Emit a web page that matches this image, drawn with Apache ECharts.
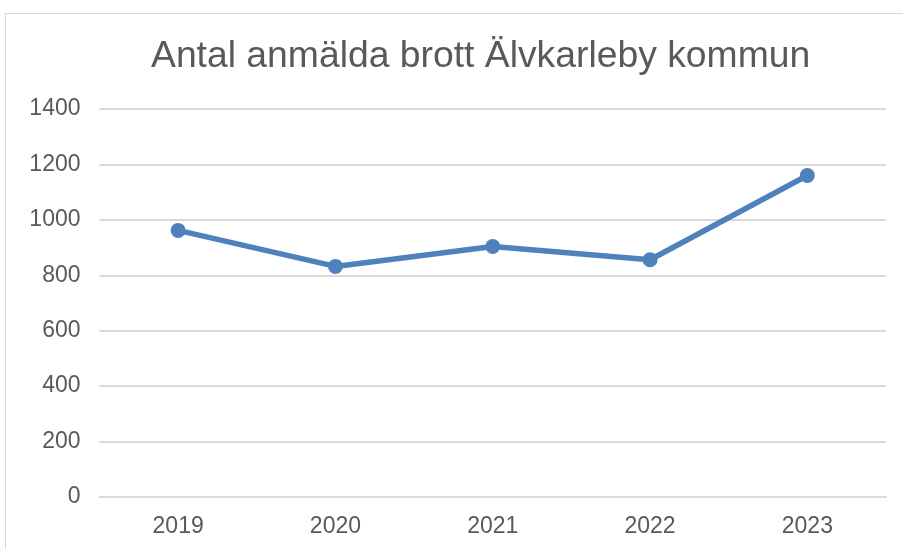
<!DOCTYPE html>
<html>
<head>
<meta charset="utf-8">
<script src="https://cdn.jsdelivr.net/npm/echarts@6/dist/echarts.min.js"></script>
<style>
  html, body { margin: 0; padding: 0; background: #fff; }
  #chart { width: 903px; height: 549px; }
</style>
</head>
<body>
<div id="chart"></div>
<script>
var years = ['2019', '2020', '2021', '2022', '2023'];
var brott = [962, 832, 904, 856, 1160];
var titleText = 'Antal anmälda brott Älvkarleby kommun';

var chart = echarts.init(document.getElementById('chart'));

var option = {
  animation: false,
  backgroundColor: '#fff',
  textStyle: { fontFamily: 'Liberation Sans, Arial, sans-serif' },
  graphic: [
    {
      type: 'rect',
      shape: { x: 5.5, y: 13.5, width: 1000, height: 1000 },
      style: { fill: 'none', stroke: '#d9d9d9', lineWidth: 1 },
      silent: true
    }
  ],
  title: {
    text: titleText,
    left: 151,
    top: 38,
    padding: 0,
    textStyle: {
      fontFamily: 'Liberation Sans, Arial, sans-serif',
      fontSize: 37.3,
      fontWeight: 'normal',
      color: '#595959'
    }
  },
  grid: { left: 99.5, right: 17, top: 109, bottom: 52, containLabel: false },
  xAxis: {
    type: 'category',
    data: years,
    boundaryGap: true,
    axisLine: { show: true, lineStyle: { color: '#d9d9d9', width: 2 } },
    axisTick: { show: false },
    axisLabel: { color: '#595959', fontSize: 23, margin: 18 },
    splitLine: { show: false }
  },
  yAxis: {
    type: 'value',
    min: 0,
    max: 1400,
    interval: 200,
    axisLine: { show: false },
    axisTick: { show: false },
    axisLabel: {
      color: '#595959',
      fontSize: 23,
      margin: 19,
      padding: [4, 0, 0, 0],
      formatter: function (v) { return String(v); }
    },
    splitLine: { lineStyle: { color: '#d9d9d9', width: 2 } }
  },
  series: [
    {
      type: 'line',
      data: brott,
      symbol: 'circle',
      symbolSize: 15,
      lineStyle: { color: '#4f81bd', width: 5.5 },
      itemStyle: { color: '#4f81bd' }
    }
  ]
};

chart.setOption(option);
</script>
</body>
</html>
